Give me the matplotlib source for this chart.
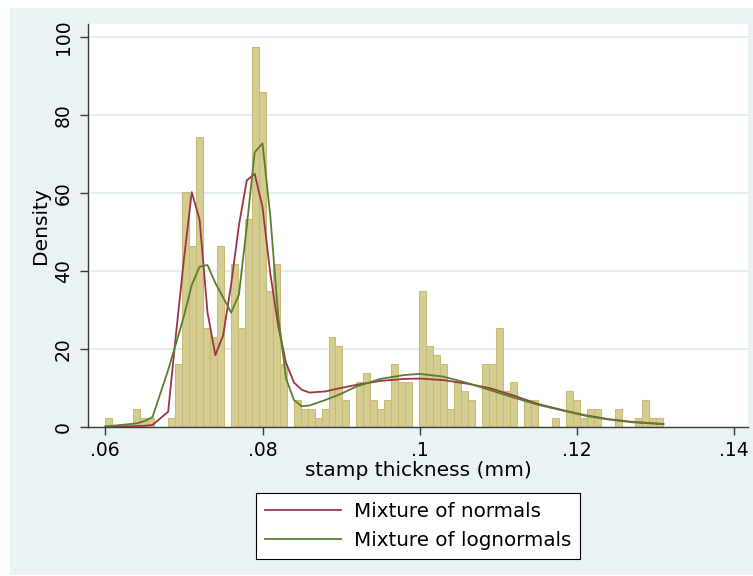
import numpy as np
import matplotlib
matplotlib.use("Agg")
import matplotlib.pyplot as plt
from matplotlib.patches import Rectangle

# ---------------- data ----------------
thickness = [0.060, 0.064, 0.065, 0.066, 0.068, 0.069, 0.070, 0.071, 0.072, 0.073,
             0.074, 0.075, 0.076, 0.077, 0.078, 0.079, 0.080, 0.081, 0.082, 0.083,
             0.084, 0.085, 0.086, 0.087, 0.088, 0.089, 0.090, 0.091, 0.092, 0.093,
             0.094, 0.095, 0.096, 0.097, 0.098, 0.099, 0.100, 0.101, 0.102, 0.103,
             0.104, 0.105, 0.106, 0.107, 0.108, 0.109, 0.110, 0.111, 0.112, 0.114,
             0.115, 0.117, 0.119, 0.120, 0.121, 0.122, 0.123, 0.125, 0.128, 0.129,
             0.130, 0.131]
counts = [1, 2, 1, 1, 1, 7, 26, 20, 32, 11,
          10, 20, 18, 11, 23, 42, 37, 15, 18, 7,
          3, 2, 2, 1, 2, 10, 9, 3, 5, 6,
          3, 2, 3, 7, 5, 5, 15, 9, 8, 7,
          2, 5, 4, 3, 7, 7, 11, 4, 5, 3,
          3, 1, 4, 3, 1, 2, 2, 2, 1, 3,
          1, 1]
n_bins = 80

normals_x = [0.060, 0.064, 0.065, 0.066, 0.068, 0.069, 0.070, 0.071, 0.072, 0.073,
             0.074, 0.075, 0.076, 0.077, 0.078, 0.079, 0.080, 0.081, 0.082, 0.083,
             0.084, 0.085, 0.086, 0.088, 0.090, 0.092, 0.095, 0.098, 0.100, 0.103,
             0.106, 0.109, 0.112, 0.115, 0.118, 0.121, 0.124, 0.127, 0.131]
normals_y = [0.2, 0.3, 0.4, 0.6, 4.0, 24.0, 43.0, 60.3, 53.2, 29.5,
             18.5, 23.6, 36.5, 51.8, 63.3, 65.0, 56.5, 39.3, 26.0, 16.5,
             11.5, 9.6, 8.9, 9.2, 10.1, 10.9, 11.9, 12.4, 12.5, 12.1,
             11.2, 10.0, 8.1, 6.0, 4.5, 3.1, 2.1, 1.4, 0.85]

lognormals_x = [0.060, 0.064, 0.065, 0.066, 0.068, 0.069, 0.070, 0.071, 0.072, 0.073,
                0.074, 0.075, 0.076, 0.077, 0.078, 0.079, 0.080, 0.081, 0.082, 0.083,
                0.084, 0.085, 0.086, 0.088, 0.090, 0.092, 0.095, 0.098, 0.100, 0.103,
                0.106, 0.109, 0.112, 0.115, 0.118, 0.121, 0.124, 0.127, 0.131]
lognormals_y = [0.2, 1.0, 1.6, 2.6, 14.7, 21.5, 28.5, 36.5, 41.2, 41.6,
                37.0, 33.3, 29.4, 34.0, 51.5, 70.5, 72.8, 54.0, 28.5, 12.5,
                7.0, 5.4, 5.6, 7.0, 8.6, 10.5, 12.4, 13.4, 13.7, 13.0,
                11.4, 9.5, 7.6, 5.8, 4.4, 3.0, 2.0, 1.3, 0.8]

xticks = [0.06, 0.08, 0.10, 0.12, 0.14]
xticklabels = [".06", ".08", ".1", ".12", ".14"]
yticks = [0, 20, 40, 60, 80, 100]

# ---------------- figure ----------------
W, H = 753, 576
fig = plt.figure(figsize=(W / 100, H / 100), dpi=100)
fig.patch.set_facecolor("white")
bg = Rectangle((10 / W, 1 / H), 1 - 10 / W, (H - 8 - 1) / H,
               transform=fig.transFigure, facecolor="#eaf2f3",
               edgecolor="none", zorder=-10)
fig.patches.append(bg)

ax_l, ax_r, ax_t, ax_b = 88, 748, 24, 427.3
ax = fig.add_axes([ax_l / W, 1 - ax_b / H, (ax_r - ax_l) / W, (ax_b - ax_t) / H])
ax.set_zorder(1)
ax.set_facecolor("white")

px_per = 7.86 / 0.001
ax.set_xlim(0.06 - (105.3 - ax_l) / px_per, 0.06 + (ax_r - 105.3) / px_per)
ax.set_ylim(0, (ax_b - ax_t) / 3.9)

for yv in yticks[1:]:
    ax.axhline(yv, color="#e4edf0", lw=1.4, zorder=0.5)

ax.hist(thickness, bins=n_bins, range=(min(thickness), max(thickness)),
        weights=counts, density=True, color="#d5cc92", edgecolor="#c7bc76",
        linewidth=0.8, zorder=2)

red = "#a03443"
green = "#5a7e30"
ax.plot(normals_x, normals_y, color=red, lw=1.3, zorder=3, label="Mixture of normals")
ax.plot(lognormals_x, lognormals_y, color=green, lw=1.3, zorder=3, label="Mixture of lognormals")

for s in ["top", "right"]:
    ax.spines[s].set_visible(False)
for s in ["left", "bottom"]:
    ax.spines[s].set_color("#3a3a3a")
    ax.spines[s].set_linewidth(1.0)

ax.set_xticks(xticks)
ax.set_xticklabels(xticklabels)
ax.set_yticks(yticks)
ax.set_yticklabels([str(v) for v in yticks], rotation=90, va="center")
ax.tick_params(direction="out", length=6, width=1, color="#3a3a3a",
               labelsize=13.5, labelcolor="black", pad=4)
ax.tick_params(axis="y", pad=5)

ax.set_xlabel("stamp thickness (mm)", fontsize=14.5)
ax.xaxis.set_label_coords(0.5, -0.084)
ax.set_ylabel("Density", fontsize=14.5)
ax.yaxis.set_label_coords(-0.057, 0.5)

leg = fig.legend(loc="upper center", bbox_to_anchor=(418 / W, 1 - 493 / H),
                 fontsize=14.3, frameon=True, fancybox=False, framealpha=1,
                 edgecolor="black", handlelength=3.8, handletextpad=0.65,
                 borderpad=0.45, labelspacing=0.5, borderaxespad=0)
leg.get_frame().set_linewidth(0.8)

fig.savefig("out.png", dpi=100)
